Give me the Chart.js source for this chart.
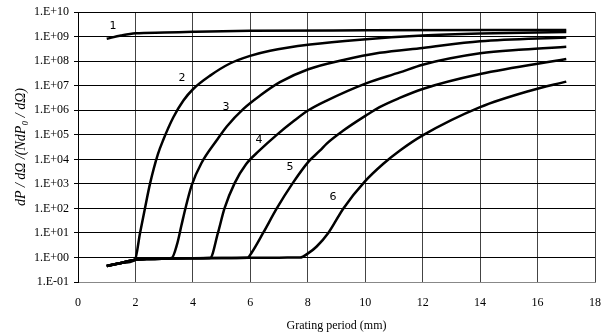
<!DOCTYPE html>
<html>
<head>
<meta charset="utf-8">
<script src="https://cdn.jsdelivr.net/npm/chart.js@4"></script>
<style>
  html, body { margin: 0; padding: 0; background: #fff; }
  #wrap { width: 606px; height: 335px; }
</style>
</head>
<body>
<div id="wrap"><canvas id="chart" width="606" height="335"></canvas></div>
<script>
// shared low baseline that curves 2-6 follow before they take off
const baseX = [1, 1.5, 2, 2.5, 3, 4, 5, 6, 7, 7.7];
const baseY = [0.45, 0.6, 0.8, 0.87, 0.9, 0.93, 0.95, 0.97, 0.98, 1.0];

const curve1X = [1, 1.5, 2, 3, 4, 6, 10, 17];
const curve1Y = [8.3e8, 1.12e9, 1.38e9, 1.48e9, 1.58e9, 1.74e9, 1.82e9, 1.9e9];

const curve2X = [1.98, 2.16, 2.33, 2.51, 2.78, 2.97, 3.32, 3.67, 4.01, 4.6, 5.29, 5.99, 6.69, 8.08, 9.82, 12, 14, 17];
const curve2Y = [0.8, 10, 100, 1.05e3, 1.6e4, 6.3e4, 5.2e5, 2.5e6, 7.4e6, 2.6e7, 8.1e7, 1.66e8, 2.7e8, 4.8e8, 7.6e8, 1.12e9, 1.35e9, 1.55e9];

const curve3X = [3.26, 3.45, 3.6, 3.75, 3.96, 4.3, 4.83, 5.18, 5.76, 6.34, 7.03, 8.02, 9.24, 10.5, 12, 14, 17];
const curve3Y = [0.95, 3.5, 20, 112, 890, 7.1e3, 6e4, 2.2e5, 1.15e6, 4e6, 1.4e7, 4.7e7, 1.12e8, 2.2e8, 3.5e8, 6.5e8, 9.3e8];

const curve4X = [4.6, 4.87, 5.1, 5.45, 5.85, 6.3, 6.92, 7.5, 8.02, 8.66, 10.03, 11.2, 12, 14, 15.5, 17];
const curve4Y = [0.95, 9.8, 100, 1.05e3, 6.3e3, 2.2e4, 1e5, 3.55e5, 1e6, 2.5e6, 1.26e7, 3.5e7, 7.2e7, 2.1e8, 3e8, 3.9e8];

const curve5X = [5.9, 6.05, 6.45, 6.92, 7.47, 8.02, 8.43, 8.66, 9.24, 10.03, 10.5, 11.2, 12, 14, 17];
const curve5Y = [0.97, 1.6, 10.2, 100, 1.05e3, 7.9e3, 2.3e4, 4.4e4, 1.5e5, 6.2e5, 1.35e6, 3.2e6, 7.4e6, 3e7, 1.23e8];

const curve6X = [7.73, 8.02, 8.31, 8.72, 9.24, 9.99, 10.63, 11.21, 12, 14, 15.74, 17];
const curve6Y = [1.0, 1.5, 2.8, 10.2, 100, 1.26e3, 6.6e3, 2.3e4, 9.5e4, 1.35e6, 6.3e6, 1.48e7];

const curveNames = ['1', '2', '3', '4', '5', '6'];
const yTickValues = [1e-1, 1e0, 1e1, 1e2, 1e3, 1e4, 1e5, 1e6, 1e7, 1e8, 1e9, 1e10];
const yTickLabels = ['1.E-01', '1.E+00', '1.E+01', '1.E+02', '1.E+03', '1.E+04',
                     '1.E+05', '1.E+06', '1.E+07', '1.E+08', '1.E+09', '1.E+10'];
const xTicks = [0, 2, 4, 6, 8, 10, 12, 14, 16, 18];

// where the curve numbers sit (data coordinates)
const labelSpots = [[1.22, 2.7e9], [3.62, 2.1e7], [5.15, 1.3e6], [6.3, 6e4], [7.38, 4.8e3], [8.88, 290]];

function withBase(xs, ys) {
    const pts = [];
    baseX.forEach((x, i) => { if (x < xs[0]) pts.push({ x: x, y: baseY[i] }); });
    xs.forEach((x, i) => pts.push({ x: x, y: ys[i] }));
    return pts;
}

const series = [
    curve1X.map((x, i) => ({ x: x, y: curve1Y[i] })),
    withBase(curve2X, curve2Y),
    withBase(curve3X, curve3Y),
    withBase(curve4X, curve4Y),
    withBase(curve5X, curve5Y),
    withBase(curve6X, curve6Y)
];

const curveLabels = {
    id: 'curveLabels',
    afterDatasetsDraw(chart) {
        const ctx = chart.ctx;
        const xs = chart.scales.x, ys = chart.scales.y;
        ctx.save();
        ctx.fillStyle = '#000';
        ctx.font = '11px "DejaVu Sans"';
        ctx.textAlign = 'center';
        ctx.textBaseline = 'middle';
        curveNames.forEach((name, i) => {
            ctx.fillText(name, xs.getPixelForValue(labelSpots[i][0]), ys.getPixelForValue(labelSpots[i][1]));
        });
        ctx.restore();
    }
};

const serif = '"Liberation Serif", "Times New Roman", serif';

new Chart(document.getElementById('chart').getContext('2d'), {
    type: 'line',
    data: {
        datasets: series.map((pts, i) => ({
            label: curveNames[i],
            data: pts,
            borderColor: '#000',
            borderWidth: 2.5,
            pointRadius: 0,
            fill: false,
            cubicInterpolationMode: 'monotone'
        }))
    },
    options: {
        responsive: false,
        animation: false,
        layout: { padding: { left: 0, right: 11, top: 11, bottom: 2 } },
        plugins: { legend: { display: false }, tooltip: { enabled: false } },
        scales: {
            x: {
                type: 'linear',
                min: 0,
                max: 18,
                afterBuildTicks: (s) => { s.ticks = xTicks.map(v => ({ value: v })); },
                afterFit: (s) => { s.height = 51; s.paddingRight = 0; s.paddingLeft = 0; },
                grid: { color: '#444', lineWidth: 1, drawTicks: false },
                border: { color: '#888', width: 1 },
                ticks: { color: '#000', font: { family: serif, size: 12 }, padding: 14, maxRotation: 0 },
                title: {
                    display: true,
                    text: 'Grating period (mm)',
                    color: '#000',
                    font: { family: serif, size: 12 },
                    padding: { top: 4, bottom: 0 }
                }
            },
            y: {
                type: 'logarithmic',
                min: 0.1,
                max: 1e10,
                afterBuildTicks: (s) => { s.ticks = yTickValues.map(v => ({ value: v })); },
                afterFit: (s) => { s.width = 78; },
                grid: { color: '#000', lineWidth: 1, tickLength: 4 },
                border: { color: '#000', width: 1 },
                ticks: {
                    color: '#000',
                    font: { family: serif, size: 12 },
                    padding: 5,
                    callback: (v) => {
                        const k = yTickValues.findIndex(t => Math.abs(Math.log10(t) - Math.log10(v)) < 1e-6);
                        return k >= 0 ? yTickLabels[k] : '';
                    }
                },
                title: {
                    display: true,
                    text: 'dP / dΩ /(NdP₀ / dΩ)',
                    color: '#000',
                    font: { family: serif, size: 14, style: 'italic' },
                    padding: { top: 13, bottom: 0 }
                }
            }
        }
    },
    plugins: [curveLabels]
});
</script>
</body>
</html>
